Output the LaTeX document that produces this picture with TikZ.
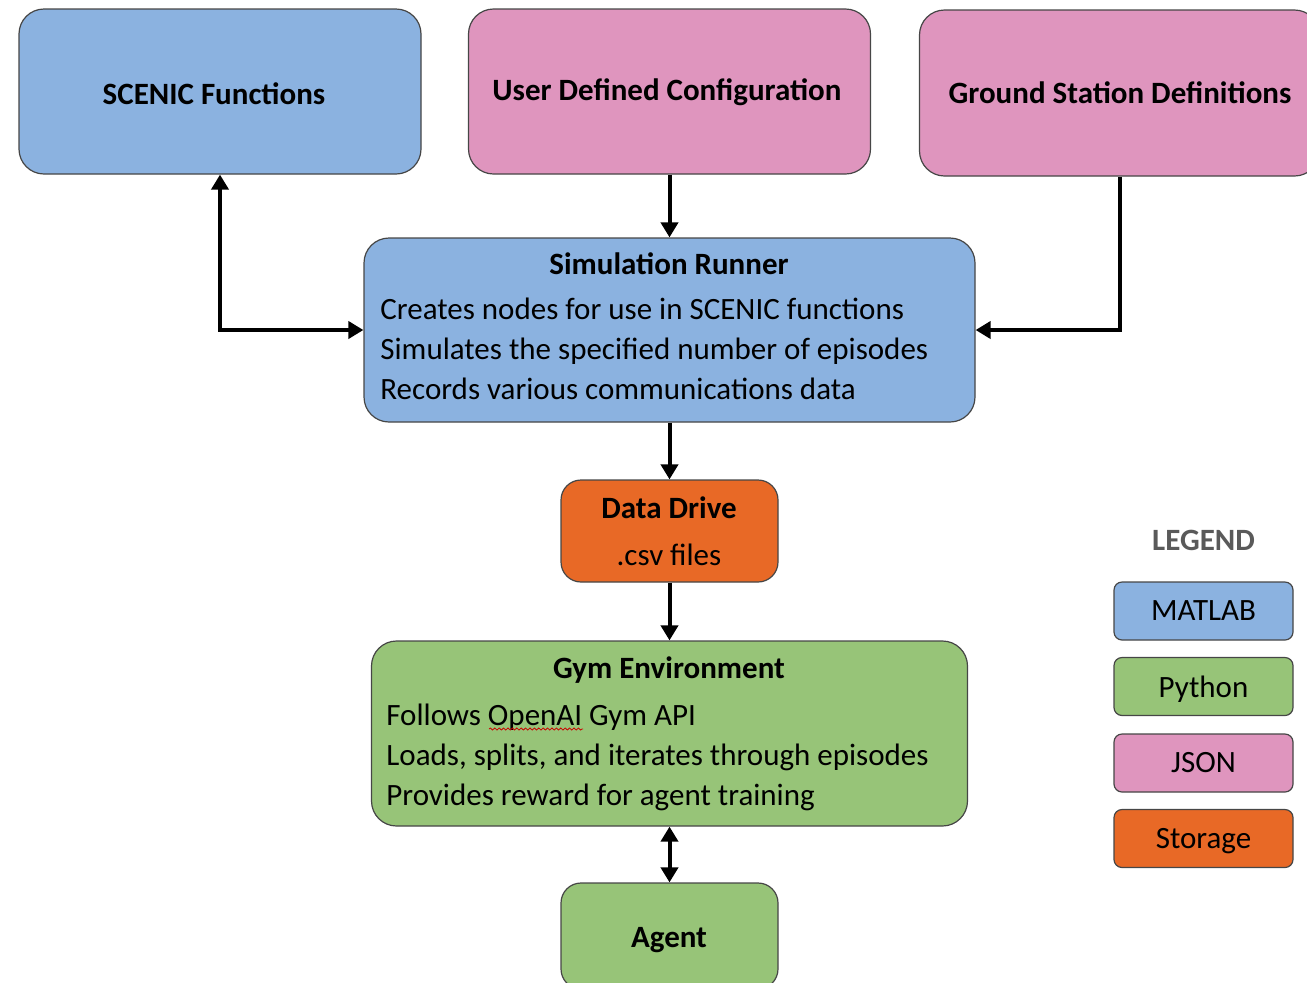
\documentclass[tikz,border=0pt]{standalone}
\usepackage{fontspec}
\setmainfont{Carlito}
\usetikzlibrary{arrows.meta,decorations.pathmorphing}
\definecolor{matlab}{RGB}{139,178,224}
\definecolor{json}{RGB}{223,149,190}
\definecolor{storage}{RGB}{232,105,38}
\definecolor{python}{RGB}{151,196,120}
\definecolor{edge}{RGB}{70,70,70}
\definecolor{leg}{RGB}{90,90,90}
\tikzset{
  box/.style={draw=edge, line width=0.6pt, rounded corners=12.5pt, inner sep=0pt},
  sbox/.style={box, rounded corners=10pt},
  lbox/.style={box, rounded corners=4pt, minimum width=89.5pt, minimum height=29pt},
  txt/.style={inner sep=0pt, font=\fontsize{15.5}{20}\selectfont, text=black},
  btxt/.style={txt, font=\fontsize{15.5}{20}\selectfont\bfseries},
  arr/.style={line width=2pt, -{Triangle[length=7.5pt,width=8.5pt]}},
  darr/.style={line width=2pt, {Triangle[length=7.5pt,width=8.5pt]}-{Triangle[length=7.5pt,width=8.5pt]}}
}
\begin{document}
\begin{tikzpicture}[x=0.5pt,y=-0.5pt]
\useasboundingbox (0,0) rectangle (1307,982);
\clip (0,0) rectangle (1307,982);
% boxes
\node[box, fill=matlab, minimum width=201pt, minimum height=82.5pt] (scenic) at (220,91.5) {};
\node[box, fill=json, minimum width=201pt, minimum height=82.5pt] (user) at (669.5,91.5) {};
\node[box, fill=json, minimum width=200pt, minimum height=83pt] (ground) at (1119.5,93) {};
\node[box, fill=matlab, minimum width=305.5pt, minimum height=92pt] (runner) at (669.5,330) {};
\node[sbox, fill=storage, minimum width=108.5pt, minimum height=51pt] (data) at (669.5,531) {};
\node[box, fill=python, minimum width=298pt, minimum height=92.5pt] (gym) at (669.5,733.5) {};
\node[sbox, fill=python, minimum width=108.5pt, minimum height=53pt] (agent) at (669.5,936) {};
% texts
\node[btxt, anchor=base] (t1) at (214,104) {SCENIC Functions};
\node[btxt, anchor=base] (t2) at (667,100) {User Defined Configuration};
\node[btxt, anchor=base] (t3) at (1120,103) {Ground Station Definitions};
\node[btxt, anchor=base] (t4) at (669,274) {Simulation Runner};
\node[txt, anchor=base west] (t5) at (380,319) {Creates nodes for use in SCENIC functions};
\node[txt, anchor=base west] (t6) at (380,359) {Simulates the specified number of episodes};
\node[txt, anchor=base west] (t7) at (380,399) {Records various communications data};
\node[btxt, anchor=base] (t8) at (669,518) {Data Drive};
\node[txt, anchor=base] (t9) at (669,565) {.csv files};
\node[btxt, anchor=base] (t10) at (669,678) {Gym Environment};
\node[txt, anchor=base west] (t11) at (386,725) {Follows \mbox{OpenAI} Gym API};
\node[txt, anchor=base west] (t12) at (386,765) {Loads, splits, and iterates through episodes};
\node[txt, anchor=base west] (t13) at (386,805) {Provides reward for agent training};
\node[btxt, anchor=base] (t14) at (669,947) {Agent};
% spell-check squiggle
\coordinate (sq1) at (489,729);
\coordinate (sq2) at (583,729);
\draw[red!80!black, line width=0.4pt, decorate, decoration={snake, amplitude=0.5pt, segment length=2.2pt}] (sq1) -- (sq2);
% legend
\node[btxt, anchor=base, text=leg] (lg) at (1203.5,550) {LEGEND};
\node[lbox, fill=matlab] (l1) at (1203.5,611) {};
\node[lbox, fill=python] (l2) at (1203.5,686.5) {};
\node[lbox, fill=json] (l3) at (1203.5,763) {};
\node[lbox, fill=storage] (l4) at (1203.5,838.5) {};
\node[txt, anchor=base] at (1203.5,620) {MATLAB};
\node[txt, anchor=base] at (1203.5,697) {Python};
\node[txt, anchor=base] at (1203.5,772) {JSON};
\node[txt, anchor=base] at (1203.5,848) {Storage};
% connectors
\draw[darr] (scenic.south) |- (runner.west);
\draw[arr] (user.south) -- (user.south |- runner.north);
\draw[arr] (ground.south) |- (runner.east);
\draw[arr] (runner.south) -- (data.north);
\draw[arr] (data.south) -- (gym.north);
\draw[darr] (gym.south) -- (agent.north);
\end{tikzpicture}
\end{document}
